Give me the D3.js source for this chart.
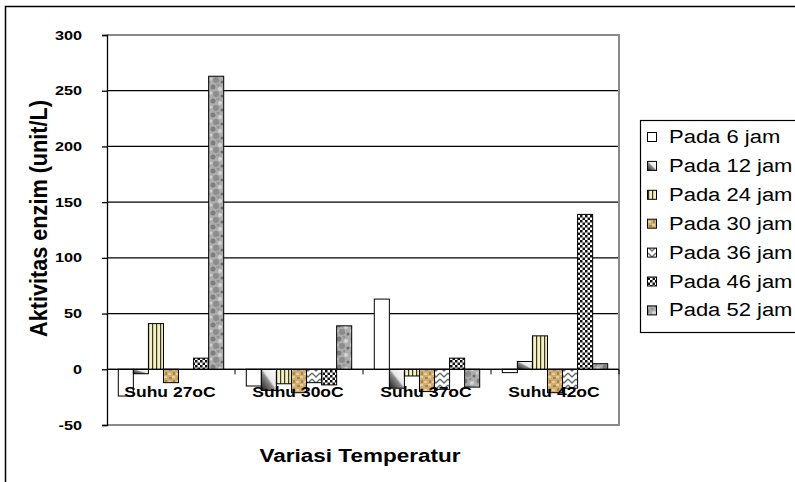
<!DOCTYPE html>
<html><head><meta charset="utf-8">
<script src="https://cdn.jsdelivr.net/npm/d3@7"></script>
<style>html,body{margin:0;padding:0;background:#fff;}svg{display:block;}</style>
</head><body>
<svg id="chart" width="795" height="482"></svg>
<script>
const categories = ["Suhu 27oC", "Suhu 30oC", "Suhu 37oC", "Suhu 42oC"];
const seriesNames = ["Pada 6 jam", "Pada 12 jam", "Pada 24 jam", "Pada 30 jam", "Pada 36 jam", "Pada 46 jam", "Pada 52 jam"];
const s6  = [-24, -15, 63, -3];
const s12 = [-4, -19, -17, 7];
const s24 = [41, -13, -6, 30];
const s30 = [-12, -21, -20, -21];
const s36 = [0, -12, -18, -17];
const s46 = [10, -14, 10, 139];
const s52 = [263, 39, -16, 5];
const seriesValues = [s6, s12, s24, s30, s36, s46, s52];
const yTicks = [-50, 0, 50, 100, 150, 200, 250, 300];
const yTitle = "Aktivitas enzim (unit/L)";
const xTitle = "Variasi Temperatur";

const FONT = "'Liberation Sans', Arial, Helvetica, sans-serif";
const SX = 1.25;
const svg = d3.select("#chart");
const plot = {l: 107, r: 619, t: 35, b: 425};

// defs
const defs = svg.append("defs");
const g12 = defs.append("linearGradient").attr("id", "f12").attr("x1", 0).attr("y1", 1).attr("x2", 1).attr("y2", 0);
g12.append("stop").attr("offset", 0).attr("stop-color", "#1c1c1c");
g12.append("stop").attr("offset", 0.45).attr("stop-color", "#8a8a8a");
g12.append("stop").attr("offset", 0.55).attr("stop-color", "#e8e8e8");
g12.append("stop").attr("offset", 1).attr("stop-color", "#ffffff");

const p24 = defs.append("pattern").attr("id", "f24").attr("patternUnits", "userSpaceOnUse").attr("width", 4).attr("height", 10);
p24.append("rect").attr("width", 4).attr("height", 10).attr("fill", "#f3f0c4");
p24.append("rect").attr("x", 0).attr("width", 1.2).attr("height", 10).attr("fill", "#3d3a1e");

const p30 = defs.append("pattern").attr("id", "f30").attr("patternUnits", "userSpaceOnUse").attr("width", 8).attr("height", 8);
p30.append("rect").attr("width", 8).attr("height", 8).attr("fill", "#cfad72");
p30.append("rect").attr("x", 1).attr("y", 1).attr("width", 3).attr("height", 2).attr("fill", "#a98648");
p30.append("rect").attr("x", 5).attr("y", 4).attr("width", 2).attr("height", 3).attr("fill", "#a98648");
p30.append("rect").attr("x", 4).attr("y", 0).attr("width", 3).attr("height", 2).attr("fill", "#e6cfa0");
p30.append("rect").attr("x", 0).attr("y", 5).attr("width", 3).attr("height", 2).attr("fill", "#e6cfa0");

const p36 = defs.append("pattern").attr("id", "f36").attr("patternUnits", "userSpaceOnUse").attr("width", 8).attr("height", 6);
p36.append("rect").attr("width", 8).attr("height", 6).attr("fill", "#ffffff");
p36.append("path").attr("d", "M0,1 L4,5 L8,1").attr("fill", "none").attr("stroke", "#6a6a6a").attr("stroke-width", 1.3);

const p46 = defs.append("pattern").attr("id", "f46").attr("patternUnits", "userSpaceOnUse").attr("width", 5).attr("height", 5);
p46.append("rect").attr("width", 5).attr("height", 5).attr("fill", "#ffffff");
p46.append("rect").attr("x", 0).attr("y", 0).attr("width", 2.5).attr("height", 2.5).attr("fill", "#111");
p46.append("rect").attr("x", 2.5).attr("y", 2.5).attr("width", 2.5).attr("height", 2.5).attr("fill", "#111");

const p52 = defs.append("pattern").attr("id", "f52").attr("patternUnits", "userSpaceOnUse").attr("width", 14).attr("height", 14);
p52.append("rect").attr("width", 14).attr("height", 14).attr("fill", "#adadad");
[[3,3,2.5,"#7e7e7e"],[10,5,2,"#d4d4d4"],[6,10,3,"#8c8c8c"],[12,12,1.5,"#6e6e6e"],[1,9,1.5,"#d0d0d0"],[8,1,1.5,"#949494"]]
  .forEach(c => p52.append("circle").attr("cx", c[0]).attr("cy", c[1]).attr("r", c[2]).attr("fill", c[3]));

const fills = ["#ffffff", "url(#f12)", "url(#f24)", "url(#f30)", "url(#f36)", "url(#f46)", "url(#f52)"];

// outer frame
svg.append("rect").attr("x", 5.5).attr("y", 6.5).attr("width", 820).attr("height", 500)
  .attr("fill", "none").attr("stroke", "#000").attr("stroke-width", 1.5);

// scales
const gap = 1.5 / 8.5;
const x0 = d3.scaleBand().domain(categories).range([plot.l, plot.r]).paddingInner(gap).paddingOuter(gap / 2);
const x1 = d3.scaleBand().domain(seriesNames).range([0, x0.bandwidth()]);
const y = d3.scaleLinear().domain([-50, 300]).range([plot.b, plot.t]);

// gridlines
svg.append("g").selectAll("line").data(yTicks.filter(t => t > -50 && t < 300)).join("line")
  .attr("x1", plot.l).attr("x2", plot.r).attr("y1", d => y(d)).attr("y2", d => y(d))
  .attr("stroke", "#000").attr("stroke-width", 1.2);

// plot border (gray) top, right, bottom
svg.append("path").attr("d", `M${plot.l},${plot.t} H${plot.r} V${plot.b} H${plot.l}`)
  .attr("fill", "none").attr("stroke", "#8a8a8a").attr("stroke-width", 2);

// bars
const data = [];
categories.forEach((c, i) => seriesNames.forEach((s, j) => data.push({c, s, j, v: seriesValues[j][i]})));
svg.append("g").selectAll("rect").data(data.filter(d => d.v !== 0)).join("rect")
  .attr("x", d => x0(d.c) + x1(d.s))
  .attr("width", x1.bandwidth())
  .attr("y", d => y(Math.max(0, d.v)))
  .attr("height", d => Math.abs(y(d.v) - y(0)))
  .attr("fill", d => fills[d.j])
  .attr("stroke", "#000").attr("stroke-width", 1);

// zero line
svg.append("line").attr("x1", plot.l).attr("x2", plot.r).attr("y1", y(0)).attr("y2", y(0))
  .attr("stroke", "#000").attr("stroke-width", 1.3);
// category ticks on zero line
const bounds = categories.map(c => x0(c) - x0.step() * gap / 2).concat([plot.r]);
svg.append("g").selectAll("line").data(bounds.slice(1)).join("line")
  .attr("x1", d => d).attr("x2", d => d).attr("y1", y(0)).attr("y2", y(0) + 5)
  .attr("stroke", "#000").attr("stroke-width", 1);

// y axis
const yAxis = d3.axisLeft(y).tickValues(yTicks).tickSize(5).tickFormat("");
const ya = svg.append("g").attr("transform", `translate(${plot.l},0)`).call(yAxis);
ya.selectAll("line,path").attr("stroke", "#000").attr("stroke-width", 1.3);

// y tick labels
svg.append("g").selectAll("text").data(yTicks).join("text")
  .attr("transform", d => `translate(82,${y(d) + 4.6}) scale(${SX},1)`)
  .attr("text-anchor", "end").attr("font-family", FONT).attr("font-weight", "bold")
  .attr("font-size", 13).attr("fill", "#000").text(d => d);

// category labels
svg.append("g").selectAll("text").data(categories).join("text")
  .attr("transform", d => `translate(${x0(d) + x0.bandwidth() / 2 - 1},396.5) scale(${SX},1)`)
  .attr("text-anchor", "middle").attr("font-family", FONT).attr("font-weight", "bold")
  .attr("font-size", 14).attr("fill", "#000").text(d => d);

// axis titles
svg.append("text").attr("transform", `translate(360,462) scale(${SX},1)`)
  .attr("text-anchor", "middle").attr("font-family", FONT).attr("font-weight", "bold")
  .attr("font-size", 18).attr("fill", "#000").text(xTitle);
svg.append("text").attr("transform", `translate(46.5,218.5) scale(${SX},1) rotate(-90)`)
  .attr("text-anchor", "middle").attr("font-family", FONT).attr("font-weight", "bold")
  .attr("font-size", 18.5).attr("textLength", 237).attr("lengthAdjust", "spacingAndGlyphs")
  .attr("fill", "#000").text(yTitle);

// legend
const lg = svg.append("g");
lg.append("rect").attr("x", 640.5).attr("y", 120.5).attr("width", 200).attr("height", 212)
  .attr("fill", "#fff").attr("stroke", "#000").attr("stroke-width", 1.2);
seriesNames.forEach((s, j) => {
  const cy = 137 + j * 28.9;
  lg.append("rect").attr("x", 647.5).attr("y", cy - 4.5).attr("width", 9).attr("height", 9)
    .attr("fill", fills[j]).attr("stroke", "#000").attr("stroke-width", 1);
  lg.append("text").attr("transform", `translate(669,${cy + 6}) scale(${SX},1)`)
    .attr("font-family", FONT).attr("font-size", 17.6).attr("fill", "#000").text(s);
});
</script>
</body></html>
